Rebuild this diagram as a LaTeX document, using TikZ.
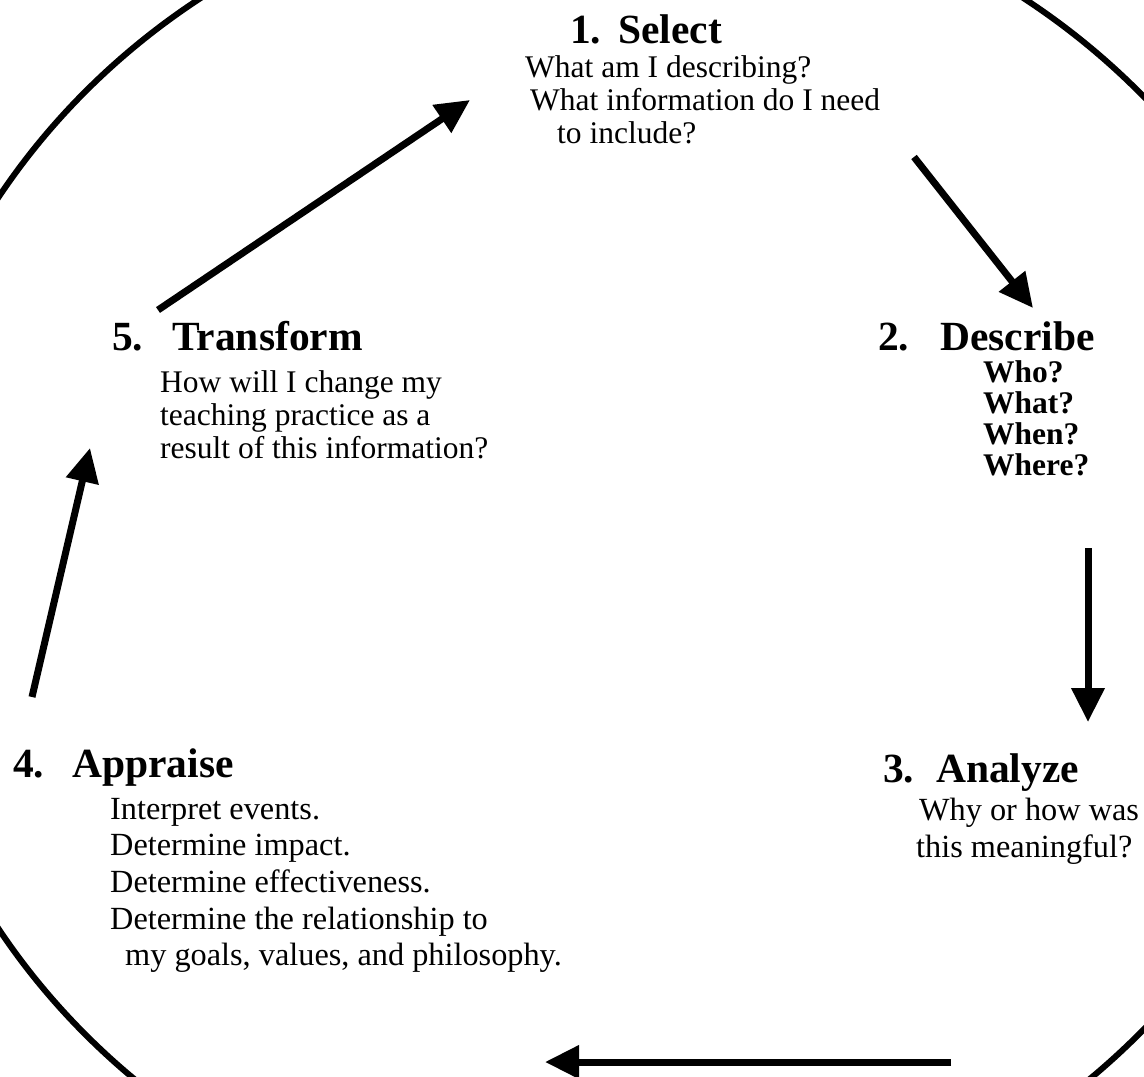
\documentclass[tikz,border=0pt]{standalone}
\usepackage{fontspec}
\setmainfont{Liberation Serif}
\usetikzlibrary{arrows.meta}

\tikzset{
  head/.style={font=\fontsize{41.5}{42}\selectfont\bfseries, anchor=base west, inner sep=0pt},
  body/.style={font=\fontsize{31.5}{33}\selectfont, anchor=base west, inner sep=0pt},
  bodylow/.style={font=\fontsize{32.3}{36}\selectfont, anchor=base west, inner sep=0pt},
  bodybold/.style={font=\fontsize{31.5}{33}\selectfont\bfseries, anchor=base west, inner sep=0pt},
  ring/.style={line width=6pt},
  flow/.style={line width=7pt, -{Triangle[width=32pt,length=34pt]}}
}

\begin{document}
\begin{tikzpicture}[x=1pt,y=-1pt]
\useasboundingbox (0,0) rectangle (1144,1077);

% outer ring, cut by the page edges
\begin{scope}
  \clip (0,0) rectangle (1144,1077);
  \draw[ring] (612,563) ellipse [x radius=725pt, y radius=686pt];
\end{scope}

% 1. Select
\node[head] (num1) at (570,43) {1.};
\node[head] (head1) at (618,43) {Select};
\node[body] (sel1) at (525,77) {What am I describing?};
\node[body] (sel2) at (530,110) {What information do I need};
\node[body] (sel3) at (557,143) {to include?};

% 2. Describe
\node[head] (num2) at (878,350) {2.};
\node[head] (head2) at (940,350) {Describe};
\node[bodybold] (des1) at (983,382) {Who?};
\node[bodybold] (des2) at (983,413) {What?};
\node[bodybold] (des3) at (983,444) {When?};
\node[bodybold] (des4) at (983,475) {Where?};

% 3. Analyze
\node[head] (num3) at (883,782) {3.};
\node[head] (head3) at (936,782) {Analyze};
\node[bodylow] (ana1) at (919,820) {Why or how was};
\node[bodylow] (ana2) at (916,857) {this meaningful?};

% 4. Appraise
\node[head] (num4) at (13,777) {4.};
\node[head] (head4) at (72,777) {Appraise};
\node[bodylow] (app1) at (110,819) {Interpret events.};
\node[bodylow] (app2) at (110,855) {Determine impact.};
\node[bodylow] (app3) at (110,892) {Determine effectiveness.};
\node[bodylow] (app4) at (110,929) {Determine the relationship to};
\node[bodylow] (app5) at (125,965) {my goals, values, and philosophy.};

% 5. Transform
\node[head] (num5) at (112,350) {5.};
\node[head] (head5) at (172,350) {Transform};
\node[body] (tra1) at (160,392) {How will I change my};
\node[body] (tra2) at (160,425) {teaching practice as a};
\node[body] (tra3) at (160,458) {result of this information?};

% arrow end points
\coordinate (a51) at (158,310);
\coordinate (b51) at (470,100);
\coordinate (a12) at (914,157);
\coordinate (b12) at (1033,308);
\coordinate (a23) at (1088,548);
\coordinate (b23) at (1088,722);
\coordinate (a34) at (951,1062);
\coordinate (b34) at (545,1062);
\coordinate (a45) at (32,697);
\coordinate (b45) at (90,448);

\draw[flow] (a51) -- (b51);
\draw[flow] (a12) -- (b12);
\draw[flow] (a23) -- (b23);
\draw[flow] (a34) -- (b34);
\draw[flow] (a45) -- (b45);
\end{tikzpicture}
\end{document}
